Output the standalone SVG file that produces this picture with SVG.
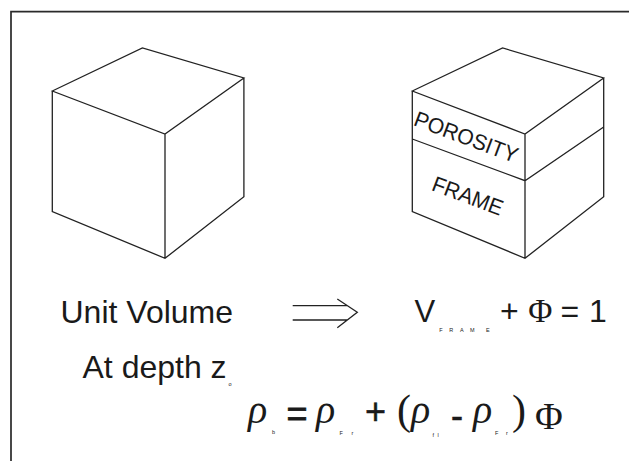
<svg xmlns="http://www.w3.org/2000/svg" width="629" height="461" viewBox="0 0 629 461">
<style>
.ln{fill:none;stroke:#222;stroke-width:1.3;stroke-linejoin:miter}
.sans{font-family:"Liberation Sans",Arial,sans-serif;fill:#1a1a1a}
.serif{font-family:"Liberation Serif","Times New Roman",serif;fill:#1a1a1a}
.rho{font-family:"Liberation Serif","Times New Roman",serif;font-style:italic;fill:#1a1a1a;font-size:40px}
.sub{font-family:"Liberation Sans",Arial,sans-serif;fill:#222;font-size:5.5px}
</style>
<rect width="629" height="461" fill="#fff"/>
<path d="M11,461 V11.7 H629" fill="none" stroke="#2a2a2a" stroke-width="1.7"/>

<g id="cube-unit">
  <path class="ln" d="M52.3,91 L142.4,48 L243.9,78 L165,134 Z M165,134 V258.3 M52.3,91 V211.5 L165,258.3 L243.9,196.7 V78"/>
</g>

<g id="cube-split">
  <path class="ln" d="M412.3,91 L502.6,48 L603.7,78 L525,134 Z M525,134 V258.3 M412.3,91 V211.5 L525,258.3 L603.7,196.7 V78 M412.3,139 L525,180.7 L603.7,127"/>
  <text class="sans" font-size="22" textLength="109" lengthAdjust="spacingAndGlyphs" transform="translate(412.5,125) rotate(20.5)">POROSITY</text>
  <text class="sans" font-size="22" textLength="74" lengthAdjust="spacingAndGlyphs" transform="translate(430.5,190) rotate(20.5)">FRAME</text>
</g>

<g id="label-unit-volume">
  <text class="sans" x="60.5" y="322.7" font-size="32">Unit Volume</text>
</g>

<g id="connectors">
  <path class="ln" stroke-width="1.2" d="M292.7,305.7 H347.4 M292.7,320 H347.4 M337.3,299 L357.3,312.3 L337.3,327.7"/>
</g>

<g id="eq-volume">
  <text class="sans" x="414.5" y="322.3" font-size="31">V</text>
  <text class="sub" y="331.7"><tspan x="439.3">F</tspan><tspan x="449.3">R</tspan><tspan x="460">A</tspan><tspan x="470">M</tspan><tspan x="486">E</tspan></text>
  <text class="sans" x="500" y="322.3" font-size="32">+</text>
  <text class="serif" x="528.3" y="322.3" font-size="33">Φ</text>
  <text class="sans" x="560.4" y="322.3" font-size="32">=</text>
  <text class="sans" x="589" y="322.3" font-size="32">1</text>
</g>

<g id="label-depth">
  <text class="sans" x="82.5" y="378.3" font-size="32">At depth z</text>
  <text class="sub" x="228.5" y="386" font-size="6">o</text>
</g>

<g id="eq-density">
  <text class="rho" x="248" y="423">ρ</text>
  <text class="sub" x="272" y="433.5">b</text>
  <text class="sans" x="286.5" y="426" font-size="36" stroke="#1a1a1a" stroke-width="0.8">=</text>
  <text class="rho" x="316" y="423">ρ</text>
  <text class="sub" y="435"><tspan x="339.5">F</tspan><tspan x="351.5">r</tspan></text>
  <text class="sans" x="365" y="424" font-size="36" stroke="#1a1a1a" stroke-width="0.5">+</text>
  <text class="serif" x="397" y="424" font-size="42">(</text>
  <text class="rho" x="411" y="423">ρ</text>
  <text class="sub" y="437"><tspan x="432.5">f</tspan><tspan x="437.5">l</tspan></text>
  <text class="sans" x="451" y="428" font-size="36" stroke="#1a1a1a" stroke-width="0.6">-</text>
  <text class="rho" x="473" y="423">ρ</text>
  <text class="sub" y="435"><tspan x="495">F</tspan><tspan x="506">r</tspan></text>
  <text class="serif" x="512" y="424" font-size="42">)</text>
  <text class="serif" x="535" y="429" font-size="38">Φ</text>
</g>
</svg>
